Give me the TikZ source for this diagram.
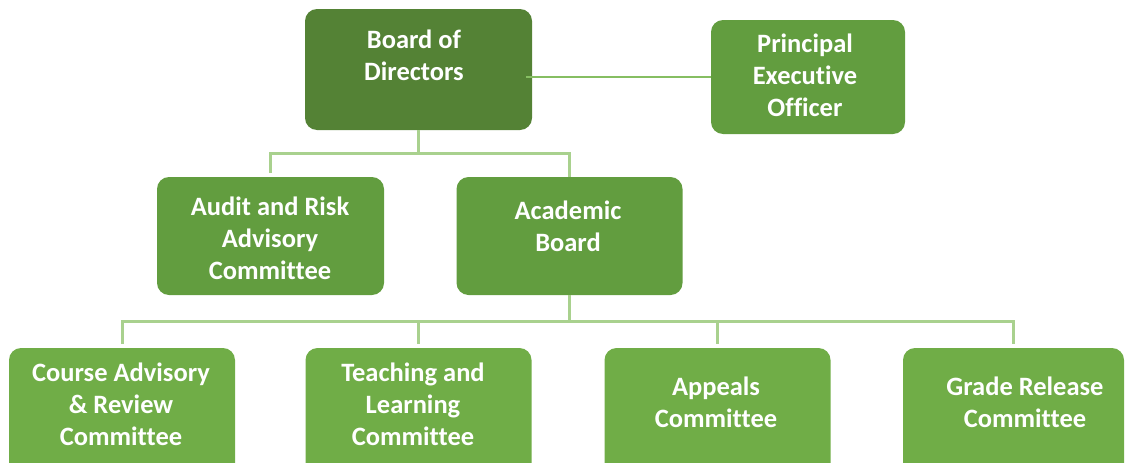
\documentclass[tikz,border=0pt]{standalone}
\usepackage{fontspec}
\setmainfont{Carlito}[Ligatures=NoCommon]
\definecolor{boardgreen}{HTML}{548235}
\definecolor{midgreen}{HTML}{629D3F}
\definecolor{lowgreen}{HTML}{70AD47}
\definecolor{linegreen}{HTML}{A9D18E}
\definecolor{peoline}{HTML}{86BE62}
\begin{document}
\begin{tikzpicture}[x=1pt,y=-1pt,
  box/.style={rounded corners=12pt, inner sep=0pt, draw=none},
  lbl/.style={text=white, font=\bfseries\fontsize{26.5}{32}\selectfont, align=center, inner sep=0pt},
  conn/.style={draw=linegreen, line width=3pt},
  peoconn/.style={draw=peoline, line width=2.5pt}]
\useasboundingbox (0,0) rectangle (1127,463);
\clip (0,0) rectangle (1127,463);
% box nodes (geometry only)
\node[box, fill=boardgreen, minimum width=227pt, minimum height=121pt] (board) at (418.5,69.5) {};
\node[box, fill=midgreen, minimum width=194pt, minimum height=114pt] (peo) at (808,77) {};
\node[box, fill=midgreen, minimum width=227pt, minimum height=118pt] (audit) at (270.5,236) {};
\node[box, fill=midgreen, minimum width=226pt, minimum height=118pt] (academic) at (569.5,236) {};
\node[box, fill=lowgreen, minimum width=226pt, minimum height=127pt] (course) at (122,411.5) {};
\node[box, fill=lowgreen, minimum width=226pt, minimum height=127pt] (teaching) at (418.5,411.5) {};
\node[box, fill=lowgreen, minimum width=226pt, minimum height=127pt] (appeals) at (717.5,411.5) {};
\node[box, fill=lowgreen, minimum width=221pt, minimum height=127pt] (grade) at (1013.5,411.5) {};
% junctions
\coordinate (j1) at (420,153);
\coordinate (j2) at (570,321);
% connectors
\draw[conn] (board.south) -- (board.south |- j1);
\draw[conn, shorten <=4pt] (audit.north) |- (j1) -| (academic.north);
\draw[conn] (academic.south) -- (academic.south |- j2);
\draw[conn, shorten <=4pt, shorten >=4pt] (course.north) |- (j2) -| (grade.north);
\draw[conn, shorten <=4pt] (teaching.north) -- (teaching.north |- j2);
\draw[conn, shorten <=4pt] (appeals.north) -- (appeals.north |- j2);
\draw[peoconn] ([xshift=-6pt,yshift=-7.5pt]board.east) -- (peo.west);
% labels
\node[lbl] (tboard) at (414,55.5) {Board of\\Directors};
\node[lbl] (tpeo) at (805,75) {Principal\\Executive\\Officer};
\node[lbl] (taudit) at (270,238) {Audit and Risk\\Advisory\\Committee};
\node[lbl] (tacad) at (568,226) {Academic\\Board};
\node[lbl] (tcourse) at (121,404) {Course Advisory\\\&~Review\\Committee};
\node[lbl] (tteach) at (413,404) {Teaching and\\Learning\\Committee};
\node[lbl] (tappeal) at (716,402) {Appeals\\Committee};
\node[lbl] (tgrade) at (1025,402) {Grade Release\\Committee};
\end{tikzpicture}
\end{document}
